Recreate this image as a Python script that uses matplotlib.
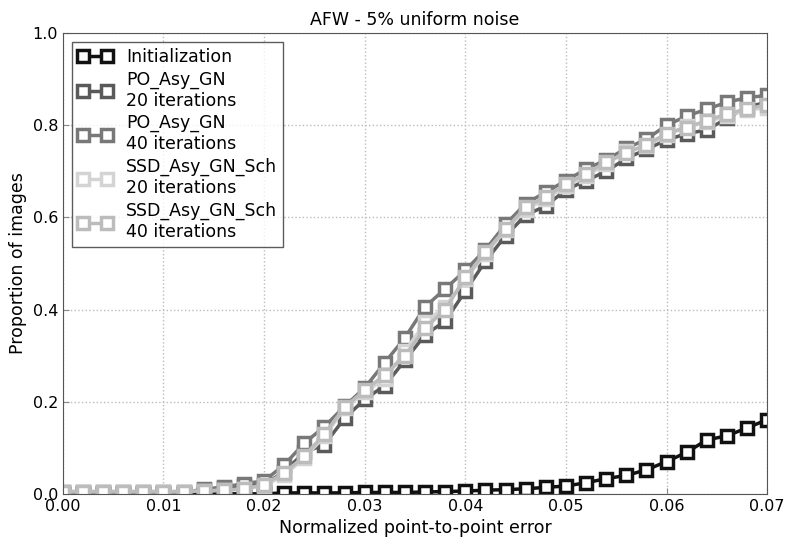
import matplotlib
matplotlib.use('Agg')
import matplotlib.pyplot as plt
import numpy as np

# --- data ---
x = np.round(np.arange(36) * 0.002, 3)

init = [0, 0, 0, 0, 0, 0, 0, 0, 0, 0, 0.0, 0.002, 0.002, 0.002, 0.002, 0.003,
        0.003, 0.003, 0.004, 0.005, 0.006, 0.008, 0.009, 0.011, 0.014, 0.017,
        0.024, 0.033, 0.040, 0.052, 0.070, 0.090, 0.117, 0.126, 0.143, 0.161]

po20 = [0.002, 0.002, 0.002, 0.002, 0.002, 0.002, 0.002, 0.008, 0.012, 0.018,
        0.020, 0.048, 0.090, 0.107, 0.164, 0.205, 0.235, 0.290, 0.345, 0.375,
        0.440, 0.505, 0.560, 0.605, 0.625, 0.660, 0.680, 0.700, 0.728, 0.748,
        0.768, 0.782, 0.790, 0.815, 0.840, 0.850]

po40 = [0.003, 0.003, 0.003, 0.003, 0.003, 0.003, 0.003, 0.010, 0.015, 0.022,
        0.028, 0.063, 0.110, 0.146, 0.190, 0.230, 0.285, 0.339, 0.406, 0.445,
        0.485, 0.530, 0.585, 0.630, 0.655, 0.680, 0.705, 0.725, 0.750, 0.770,
        0.800, 0.820, 0.835, 0.850, 0.860, 0.865]

ssd20 = [0.005, 0.005, 0.005, 0.005, 0.005, 0.005, 0.005, 0.006, 0.008, 0.010,
         0.018, 0.040, 0.078, 0.125, 0.186, 0.221, 0.250, 0.309, 0.372, 0.406,
         0.466, 0.521, 0.572, 0.617, 0.640, 0.668, 0.691, 0.715, 0.744, 0.755,
         0.779, 0.799, 0.807, 0.821, 0.833, 0.838]

ssd40 = [0.005, 0.005, 0.005, 0.005, 0.005, 0.005, 0.005, 0.006, 0.008, 0.011,
         0.020, 0.045, 0.082, 0.130, 0.188, 0.225, 0.258, 0.300, 0.360, 0.400,
         0.470, 0.525, 0.575, 0.622, 0.645, 0.672, 0.695, 0.720, 0.740, 0.758,
         0.782, 0.795, 0.810, 0.825, 0.835, 0.845]

series = [
    (init, 'Initialization', '#111111'),
    (po20, 'PO_Asy_GN\n20 iterations', '#5a5a5a'),
    (po40, 'PO_Asy_GN\n40 iterations', '#787878'),
    (ssd20, 'SSD_Asy_GN_Sch\n20 iterations', '#d4d4d4'),
    (ssd40, 'SSD_Asy_GN_Sch\n40 iterations', '#bcbcbc'),
]

fig = plt.figure(figsize=(7.86, 5.53), dpi=100)
ax = fig.add_axes([0.080, 0.107, 0.896, 0.833])

# plot in legend order: light curves end up on top, as in the reference
handles = []
for vals, label, col in series:
    h, = ax.plot(x, vals, color=col, lw=2.5, marker='s', markersize=8,
                 markerfacecolor='white', markeredgecolor=col,
                 markeredgewidth=2.5, label=label)
    handles.append(h)

ax.set_xlim(0, 0.07)
ax.set_ylim(0, 1.0)
ax.set_xticks(np.arange(0, 0.071, 0.01))
ax.set_xticklabels(['%.2f' % v for v in np.arange(0, 0.071, 0.01)])
ax.set_yticks(np.arange(0, 1.01, 0.2))
ax.set_yticklabels(['%.1f' % v for v in np.arange(0, 1.01, 0.2)])
ax.grid(True, linestyle=':', color='#bbbbbb', linewidth=1)
ax.tick_params(direction='in', labelsize=11.5, length=4, color='#888888')
for s in ax.spines.values():
    s.set_color('#555555')

ax.set_title('AFW - 5% uniform noise', fontsize=12.5)
ax.set_xlabel('Normalized point-to-point error', fontsize=12.5)
ax.set_ylabel('Proportion of images', fontsize=12.5)

leg = ax.legend(handles, [s[1] for s in series], loc='upper left',
                fontsize=12.5, fancybox=False, numpoints=2,
                handlelength=2.0, labelspacing=0.28, borderpad=0.35,
                handletextpad=0.8, borderaxespad=0.5)
leg.get_frame().set_edgecolor('#333333')
leg.get_frame().set_linewidth(1)

plt.savefig('out.png', dpi=100)
